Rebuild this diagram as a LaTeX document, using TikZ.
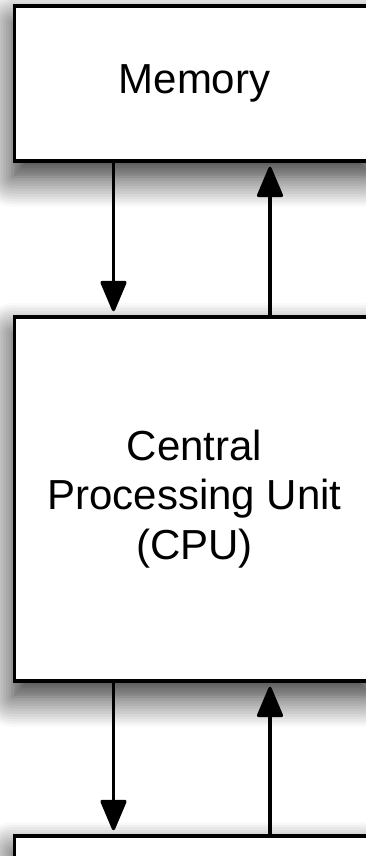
\documentclass[tikz,border=0pt]{standalone}
\usepackage{fontspec}
\setmainfont{Liberation Sans}
\usetikzlibrary{arrows.meta,shadows.blur}
\begin{document}
\begin{tikzpicture}[x=1pt,y=1pt,
    unit/.style={draw, line width=3.5pt, fill=white, minimum width=360pt,
      align=center, font=\fontsize{42}{49.5}\selectfont,
      blur shadow={shadow xshift=-2pt, shadow yshift=-16pt,
        shadow blur radius=30pt, shadow blur steps=12, shadow opacity=85}},
    bus/.style={line width=3.2pt, -{Triangle[length=33pt,width=27pt,round]},
      shorten >=4pt}]
                        \useasboundingbox (0,0) rectangle (366,856);
                        \clip (0,0) rectangle (366,856);

                        \node [unit, minimum height=155pt] (mem) at (194.5,772.5) {Memory};
                        \node [unit, minimum height=364pt] (cpu) at (194.5,357) {Central\\Processing Unit\\(CPU)};
                        \node [unit, minimum height=155pt] (io) at (194.5,-57.5) {};

                        % memory <-> cpu
                        \draw [bus] ([xshift=-81pt]mem.south) -- ([xshift=-81pt]cpu.north);
                        \draw [bus] ([xshift=75.5pt]cpu.north) -- ([xshift=75.5pt]mem.south);
                        % cpu <-> bottom unit
                        \draw [bus] ([xshift=-81pt]cpu.south) -- ([xshift=-81pt]io.north);
                        \draw [bus] ([xshift=75.5pt]io.north) -- ([xshift=75.5pt]cpu.south);
                    \end{tikzpicture}
\end{document}
